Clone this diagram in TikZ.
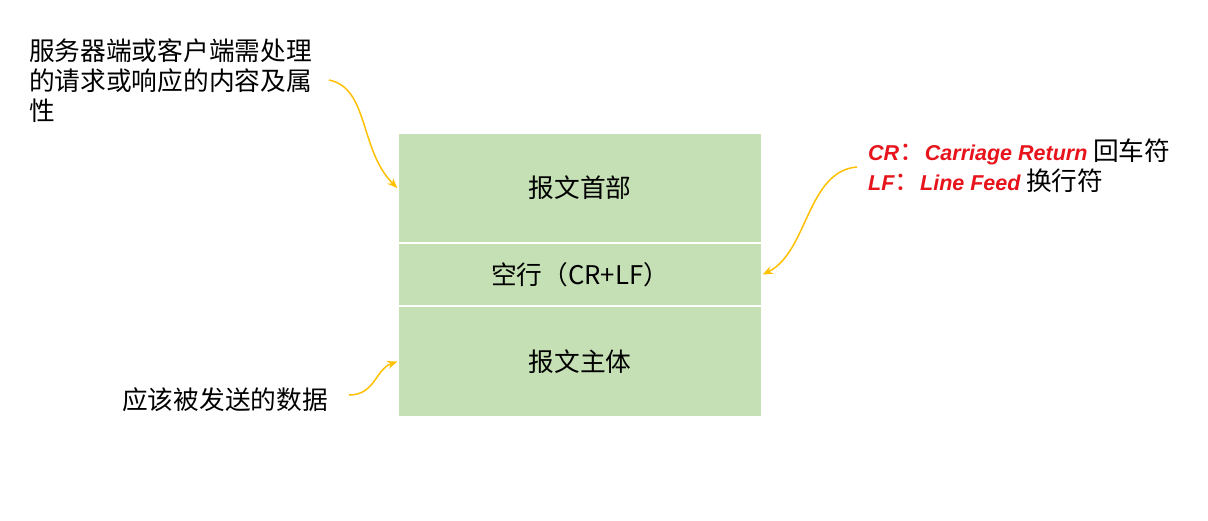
\documentclass[tikz,border=0pt]{standalone}
\usepackage{fontspec}
\setmainfont{Noto Sans CJK SC}
\newfontfamily\latfont{Liberation Sans}
\usetikzlibrary{arrows.meta}

\definecolor{partgreen}{HTML}{C5E0B4}
\definecolor{hintgold}{HTML}{FFC000}
\definecolor{crlfred}{HTML}{E8141C}

\newcommand\redword[1]{{\color{crlfred}\latfont\bfseries\itshape\fontsize{21.5}{30}\selectfont #1}}

\begin{document}
\begin{tikzpicture}[x=1pt,y=-1pt]

% Styles
\tikzset{
    part/.style={fill=partgreen, draw=white, line width=1.5pt, minimum width=364pt, inner sep=0pt, font=\fontsize{25.7}{30}\selectfont},
    note/.style={inner sep=0pt, align=left, font=\fontsize{25.7}{30}\selectfont},
    hint/.style={draw=hintgold, line width=1.5pt, -{Stealth[length=10pt,width=8pt]}}
}

\fill[white] (0,0) rectangle (1208,520);

% Message parts
\node[part, minimum height=110pt] (head) at (580,188){报文首部};
\node[part, minimum height=63pt] (blank) at (580,274.5){空行（CR+LF）};
\node[part, minimum height=111pt] (body) at (580,361.5){报文主体};

% Notes
\node[note, anchor=north west] (headnote) at (29,38){服务器端或客户端需处理\\的请求或响应的内容及属\\性};
\node[note, anchor=west] (bodynote) at (122,400){应该被发送的数据};
\node[note, anchor=north west] (crlfnote) at (868,139){\redword{CR}{\color{crlfred}：}\redword{Carriage Return} 回车符\\\redword{LF}{\color{crlfred}：}\redword{Line Feed} 换行符};

% Arrows
\coordinate (headtail) at (329,80);
\coordinate (crlftail) at (857,167);
\coordinate (bodytail) at (349,395);
\draw[hint] (headtail) .. controls +(40,8) and +(-38,-38) .. (head.west);
\draw[hint] (crlftail) .. controls +(-50,4) and +(45,-22) .. (blank.east);
\draw[hint] (bodytail) .. controls +(26,0) and +(-22,8) .. (body.west);

\end{tikzpicture}
\end{document}
